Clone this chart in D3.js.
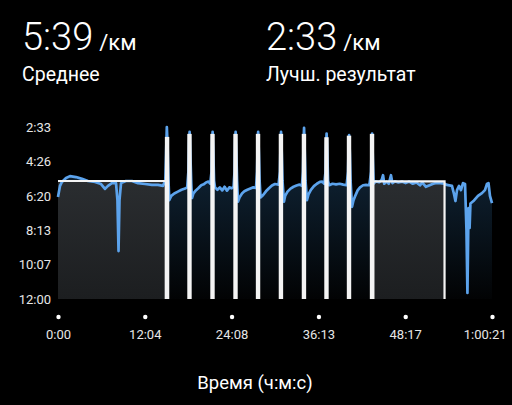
<!DOCTYPE html>
<html>
<head>
<meta charset="utf-8">
<script src="https://cdn.jsdelivr.net/npm/d3@7"></script>
<style>
  html, body { margin: 0; background: #000; }
  svg { display: block; font-family: Roboto, "Noto Sans", sans-serif; }
</style>
</head>
<body>
<svg id="chart" width="512" height="405"></svg>
<script>
// Header summary
const summaryValues = ["5:39", "2:33"];
const summaryUnits = ["/км", "/км"];
const summaryLabels = ["Среднее", "Лучш. результат"];

// Pace track: elapsed seconds and pace in seconds per km
const timeSec = [
  0, 17, 33, 67, 100, 150, 200, 250, 309, 359, 392, 417, 450, 484, 496, 505, 513, 526, 567, 617, 667, 726, 784, 834, 876,
  895, 902, 908, 914, 922, 928, 945, 970, 1000, 1030, 1060, 1078,
  1088, 1094, 1098, 1104, 1112, 1118, 1130, 1150, 1170, 1195, 1215, 1235, 1255, 1270,
  1281, 1286, 1290, 1296, 1302, 1310, 1330, 1350, 1370, 1390, 1410, 1430, 1450, 1465,
  1473, 1478, 1482, 1488, 1494, 1502, 1515, 1535, 1555, 1580, 1605, 1630, 1652,
  1661, 1666, 1670, 1676, 1682, 1690, 1710, 1735, 1760, 1785, 1810, 1840,
  1852, 1857, 1861, 1867, 1873, 1885, 1895, 1915, 1940, 1965, 1990, 2015, 2035,
  2044, 2049, 2053, 2059, 2065, 2077, 2090, 2110, 2135, 2160, 2185, 2205, 2222,
  2232, 2237, 2241, 2247, 2253, 2262, 2290, 2320, 2350, 2380, 2408,
  2420, 2425, 2429, 2435, 2441, 2453, 2465, 2480, 2500, 2520, 2545, 2570, 2598,
  2612, 2617, 2621, 2627, 2634,
  2650, 2680, 2700, 2712, 2722, 2740, 2760, 2778, 2790, 2810, 2840, 2870, 2900, 2930, 2960, 2990, 3020, 3040, 3070, 3100, 3130, 3160, 3190, 3225,
  3245, 3287, 3304, 3316, 3329, 3346, 3362, 3379, 3396, 3408, 3416, 3425, 3434, 3441, 3471, 3504, 3537, 3562, 3579, 3592, 3604, 3621
];
const paceSec = [
  384, 347, 334, 321, 315, 318, 324, 331, 334, 341, 357, 347, 338, 338, 394, 562, 394, 338, 331, 331, 338, 341, 344, 344, 347,
  330, 240, 153, 210, 330, 394, 380, 372, 366, 360, 356, 352,
  300, 200, 169, 240, 340, 387, 372, 362, 355, 345, 342, 336, 333, 340,
  300, 200, 169, 240, 330, 352, 360, 352, 362, 350, 363, 352, 355, 350,
  300, 200, 169, 240, 330, 399, 385, 372, 365, 360, 356, 352, 354,
  300, 200, 169, 240, 330, 385, 378, 365, 355, 346, 341, 343,
  300, 200, 169, 240, 330, 399, 380, 366, 356, 350, 346, 343, 347,
  300, 200, 156, 240, 330, 394, 375, 360, 348, 340, 334, 333, 340,
  300, 210, 175, 240, 330, 345, 340, 342, 340, 343, 345,
  300, 210, 180, 240, 330, 416, 395, 380, 362, 352, 345, 344, 345,
  300, 210, 175, 260, 340,
  332, 335, 328, 312, 340, 333, 340, 312, 338, 332, 336, 333, 338, 333, 340, 336, 345, 336, 350, 345, 340, 337, 338, 340,
  344, 347, 374, 397, 361, 347, 361, 338, 341, 493, 700, 420, 486, 405, 395, 380, 371, 361, 341, 338, 380, 404
];

// Laps: start / end (s) and average pace (s per km)
const lapStart = [0, 900, 1087, 1279, 1471, 1659, 1850, 2042, 2230, 2418, 2610, 2630];
const lapEnd   = [900, 920, 1107, 1299, 1491, 1679, 1870, 2062, 2250, 2438, 2630, 3225];
const lapPace  = [331, 189, 179, 179, 179, 179, 179, 179, 190, 185, 179, 332];

// Axis ticks
const paceTicks = [153, 266, 380, 493, 607, 720];
const timeTicks = [0, 724, 1448, 2173, 2897, 3621];
const timeTickLabels = ["0:00", "12:04", "24:08", "36:13", "48:17", "1:00:21"];
const xTitle = "Время (ч:м:с)";

const svg = d3.select("#chart");
const plot = { left: 58, right: 492, top: 127, bottom: 299 };

const x = d3.scaleLinear().domain([0, 3621]).range([plot.left, plot.right]);
const y = d3.scaleLinear().domain([720, 153]).range([plot.bottom, plot.top]);

const fmtPace = s => `${Math.floor(s / 60)}:${String(Math.round(s % 60)).padStart(2, "0")}`;

// ---- header
const headerX = [22, 266];
summaryValues.forEach((v, i) => {
  const big = svg.append("text")
    .attr("x", headerX[i]).attr("y", 50)
    .attr("fill", "#fff").attr("font-size", 38).attr("font-weight", 300)
    .text(v);
  const w = big.node().getComputedTextLength();
  svg.append("text")
    .attr("x", headerX[i] + w + 6).attr("y", 50)
    .attr("fill", "#fff").attr("font-size", 22)
    .text(summaryUnits[i]);
  svg.append("text")
    .attr("x", headerX[i]).attr("y", 81)
    .attr("fill", "#fff").attr("font-size", 19.5)
    .text(summaryLabels[i]);
});

// ---- gradients
const defs = svg.append("defs");
const areaGrad = defs.append("linearGradient")
  .attr("id", "areaFade").attr("gradientUnits", "userSpaceOnUse")
  .attr("x1", 0).attr("y1", plot.top).attr("x2", 0).attr("y2", plot.bottom);
areaGrad.append("stop").attr("offset", 0).attr("stop-color", "#132c42");
areaGrad.append("stop").attr("offset", 1).attr("stop-color", "#020304");

const lapGrad = defs.append("linearGradient")
  .attr("id", "lapFill").attr("x1", 0).attr("y1", 0).attr("x2", 0).attr("y2", 1);
lapGrad.append("stop").attr("offset", 0).attr("stop-color", "#2a2d30");
lapGrad.append("stop").attr("offset", 1).attr("stop-color", "#1c1e20");

const track = timeSec.map((t, i) => ({ t, p: paceSec[i] }));
const laps = lapStart.map((s, i) => ({ s, e: lapEnd[i], p: lapPace[i] }));
const isNarrow = d => x(d.e) - x(d.s) < 8;

// ---- area under the pace line
svg.append("path")
  .datum(track)
  .attr("fill", "url(#areaFade)")
  .attr("d", d3.area().x(d => x(d.t)).y0(plot.bottom).y1(d => y(d.p)));

// ---- lap blocks (wide laps)
svg.append("g").selectAll("rect").data(laps.filter(d => !isNarrow(d))).join("rect")
  .attr("x", d => x(d.s))
  .attr("y", d => y(d.p))
  .attr("width", d => x(d.e) - x(d.s))
  .attr("height", d => plot.bottom - y(d.p))
  .attr("fill", "url(#lapFill)");

// ---- pace line
svg.append("path")
  .datum(track)
  .attr("fill", "none")
  .attr("stroke", "#5ca3ec")
  .attr("stroke-width", 2.7)
  .attr("stroke-linejoin", "round")
  .attr("d", d3.line().x(d => x(d.t)).y(d => y(d.p)));

// ---- lap outlines (top edge and sides)
svg.append("g").selectAll("path").data(laps.filter(d => !isNarrow(d))).join("path")
  .attr("fill", "none")
  .attr("stroke", "#f4f4f4")
  .attr("stroke-width", 2.2)
  .attr("d", d => {
    const x0 = x(d.s), x1 = x(d.e), yt = y(d.p), yb = plot.bottom;
    return (d.s === 0 ? `M${x0},${yt}` : `M${x0},${yb}V${yt}`) + `H${x1}V${yb}`;
  });

// ---- short interval laps as solid bars
svg.append("g").selectAll("rect").data(laps.filter(isNarrow)).join("rect")
  .attr("x", d => x(d.s) - 1)
  .attr("y", d => y(d.p) - 1)
  .attr("width", d => x(d.e) - x(d.s) + 2)
  .attr("height", d => plot.bottom - y(d.p) + 1)
  .attr("fill", "#f4f4f4");

// ---- y axis
const yAxis = svg.append("g")
  .attr("transform", `translate(${plot.left},0)`)
  .call(d3.axisLeft(y).tickValues(paceTicks).tickFormat(fmtPace).tickSize(0).tickPadding(7));
yAxis.select(".domain").remove();
yAxis.selectAll("text")
  .attr("fill", "#e6e6e6").attr("font-size", 13).attr("font-family", "Roboto, sans-serif");

// ---- x axis with dot markers
const xAxis = svg.append("g")
  .attr("transform", "translate(0,317)")
  .call(d3.axisBottom(x).tickValues(timeTicks).tickFormat((d, i) => timeTickLabels[i]).tickSize(0).tickPadding(0));
xAxis.select(".domain").remove();
xAxis.selectAll(".tick").append("circle").attr("r", 2.2).attr("fill", "#fff");
xAxis.selectAll("text")
  .attr("y", 22).attr("dy", 0)
  .attr("fill", "#e6e6e6").attr("font-size", 13).attr("font-family", "Roboto, sans-serif")
  .each(function (d) {
    const w = this.getComputedTextLength();
    const over = x(d) + w / 2 - 506;
    if (over > 0) d3.select(this).attr("x", -over);
  });

// ---- x title
svg.append("text")
  .attr("x", 255).attr("y", 389)
  .attr("text-anchor", "middle")
  .attr("fill", "#fff").attr("font-size", 18.5)
  .text(xTitle);
</script>
</body>
</html>
